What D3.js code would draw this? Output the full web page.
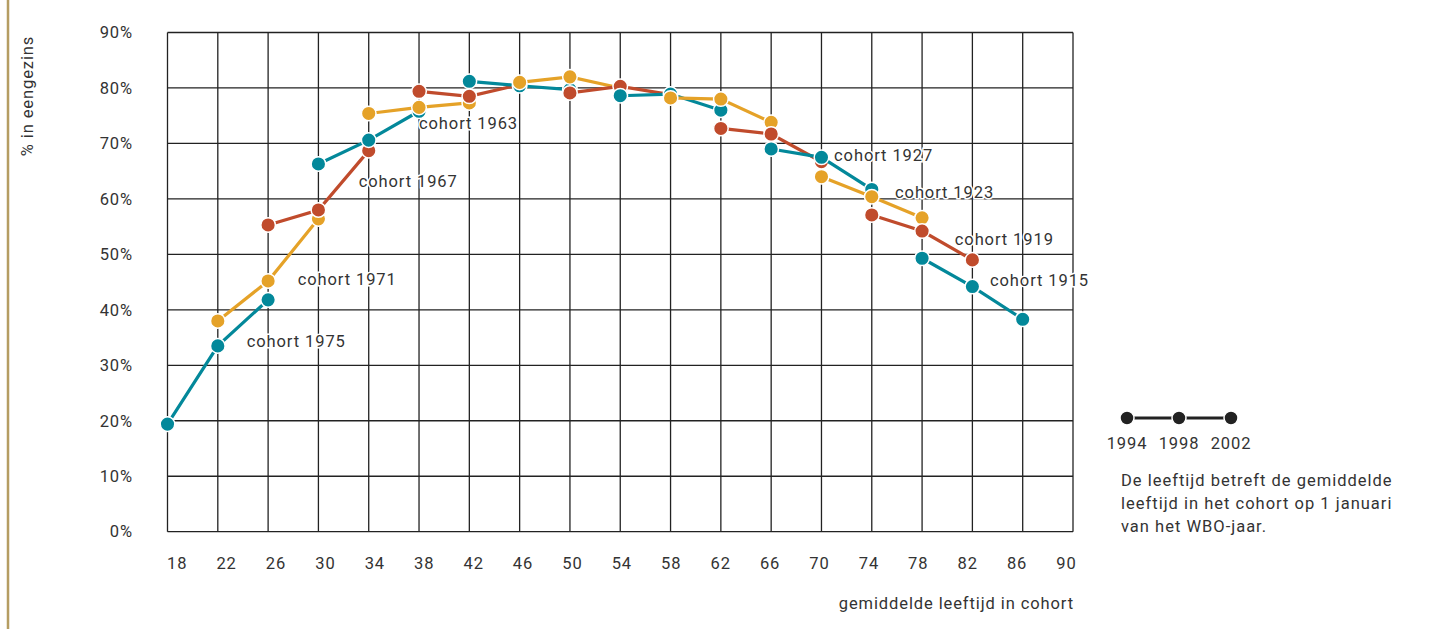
<!DOCTYPE html>
<html>
<head>
<meta charset="utf-8">
<script src="https://cdn.jsdelivr.net/npm/d3@7"></script>
<style>
  body { margin: 0; background: #fff; }
  svg text { font-family: Roboto, sans-serif; fill: #333; letter-spacing: 0.9px; }
</style>
</head>
<body>
<svg width="1438" height="629"></svg>
<script>
// cohorts, youngest first (drawn first so the older ones sit on top)
var cohorts  = [1975, 1971, 1967, 1963, 1959, 1955, 1951, 1947, 1943, 1939, 1935, 1931, 1927, 1923, 1919, 1915];
var age1994  = [18, 22, 26, 30, 34, 38, 42, 46, 50, 54, 58, 62, 66, 70, 74, 78];
var age1998  = [22, 26, 30, 34, 38, 42, 46, 50, 54, 58, 62, 66, 70, 74, 78, 82];
var age2002  = [26, 30, 34, 38, 42, 46, 50, 54, 58, 62, 66, 70, 74, 78, 82, 86];
var pct1994  = [19.4, 38.0, 55.3, 66.3, 75.4, 79.4, 81.2, 81.0, 79.1, 78.6, 78.2, 72.7, 69.0, 64.0, 57.1, 49.3];
var pct1998  = [33.5, 45.2, 58.0, 70.6, 76.5, 78.5, 80.4, 82.0, 80.3, 78.9, 78.0, 71.7, 67.5, 60.4, 54.2, 44.2];
var pct2002  = [41.8, 56.4, 68.7, 75.8, 77.3, 80.6, 79.7, 80.0, 78.8, 76.0, 73.8, 66.7, 61.7, 56.6, 49.0, 38.3];

var waveYears = [1994, 1998, 2002];
var xTicks = [18, 22, 26, 30, 34, 38, 42, 46, 50, 54, 58, 62, 66, 70, 74, 78, 82, 86, 90];
var yTicks = [0, 10, 20, 30, 40, 50, 60, 70, 80, 90];

// which cohorts get a name on the chart, and where (age, %)
var labelCohorts = [1975, 1971, 1967, 1963, 1927, 1923, 1919, 1915];
var labelAge     = [24.3, 28.35, 33.2, 38.0, 71.0, 75.85, 80.6, 83.4];
var labelPct     = [33.3, 44.5, 62.2, 72.6, 66.9, 60.2, 51.7, 44.3];

var colors = ["#03889A", "#E5A228", "#C04B2C"];

var svg = d3.select("svg");

var x = d3.scaleLinear().domain([18, 90]).range([167.5, 1073]),
    xl = d3.scaleLinear().domain([18, 90]).range([176.7, 1066]),
    y = d3.scaleLinear().domain([0, 90]).range([531.7, 32.5]);

var fs = "16.5px";

// gold rule on the left edge
svg.append("line")
    .attr("x1", 8).attr("x2", 8)
    .attr("y1", 0).attr("y2", 629)
    .attr("stroke", "#B59D62")
    .attr("stroke-width", 2.5);

// grid
var grid = svg.append("g")
    .attr("stroke", "#222")
    .attr("stroke-width", 1.3);

grid.selectAll(".v")
    .data(xTicks)
    .enter().append("line")
    .attr("x1", function(d) { return x(d) })
    .attr("x2", function(d) { return x(d) })
    .attr("y1", y(90))
    .attr("y2", y(0));

grid.selectAll(".h")
    .data(yTicks)
    .enter().append("line")
    .attr("x1", x(18))
    .attr("x2", x(90))
    .attr("y1", function(d) { return y(d) })
    .attr("y2", function(d) { return y(d) });

// axes (labels only)
var xAxis = d3.axisBottom(xl).tickValues(xTicks).tickSize(0).tickPadding(0),
    yAxis = d3.axisLeft(y).tickValues(yTicks).tickSize(0).tickPadding(34.5)
      .tickFormat(function(d) { return d + "%" });

svg.append("g")
    .attr("transform", "translate(0,557)")
    .call(xAxis)
    .call(function(g) { g.select(".domain").remove() })
    .selectAll("text")
    .style("font-size", fs)
    .style("font-family", "Roboto, sans-serif")
    .attr("fill", "#333");

svg.append("g")
    .attr("transform", "translate(" + x(18) + ",0)")
    .call(yAxis)
    .call(function(g) { g.select(".domain").remove() })
    .selectAll("text")
    .style("font-size", fs)
    .style("font-family", "Roboto, sans-serif")
    .attr("fill", "#333");

svg.append("text")
    .attr("transform", "translate(33,96)rotate(-90)")
    .attr("text-anchor", "middle")
    .style("font-size", fs)
    .text("% in eengezins");

svg.append("text")
    .attr("x", 1074)
    .attr("y", 609)
    .attr("text-anchor", "end")
    .style("font-size", fs)
    .text("gemiddelde leeftijd in cohort");

// cohort lines
var line = d3.line()
    .x(function(d) { return x(d.age) })
    .y(function(d) { return y(d.pct) });

var data = cohorts.map(function(c, i) {
  return {
    cohort: c,
    color: colors[i % 3],
    points: [
      {age: age1994[i], pct: pct1994[i]},
      {age: age1998[i], pct: pct1998[i]},
      {age: age2002[i], pct: pct2002[i]}
    ]
  };
});

var series = svg.selectAll(".cohort")
    .data(data)
    .enter().append("g")
    .attr("class", "cohort");

series.append("path")
    .attr("fill", "none")
    .attr("stroke", function(d) { return d.color })
    .attr("stroke-width", 3.2)
    .attr("d", function(d) { return line(d.points) });

series.selectAll("circle")
    .data(function(d) { return d.points.map(function(p) { return {age: p.age, pct: p.pct, color: d.color} }) })
    .enter().append("circle")
    .attr("cx", function(d) { return x(d.age) })
    .attr("cy", function(d) { return y(d.pct) })
    .attr("r", 7.3)
    .attr("fill", function(d) { return d.color })
    .attr("stroke", "#fff")
    .attr("stroke-width", 1.5);

// cohort names, with a white halo over the grid
svg.selectAll(".clabel")
    .data(labelCohorts)
    .enter().append("text")
    .attr("class", "clabel")
    .attr("x", function(d, i) { return x(labelAge[i]) })
    .attr("y", function(d, i) { return y(labelPct[i]) })
    .style("font-size", fs)
    .style("paint-order", "stroke")
    .attr("stroke", "#fff")
    .attr("stroke-width", 3)
    .text(function(d) { return "cohort " + d });

// legend: one cohort followed over the three survey years
var lx = d3.scalePoint().domain(waveYears).range([1127, 1231]);
var legend = svg.append("g");

legend.append("line")
    .attr("x1", lx(1994)).attr("x2", lx(2002))
    .attr("y1", 418).attr("y2", 418)
    .attr("stroke", "#222")
    .attr("stroke-width", 3.2);

legend.selectAll("circle")
    .data(waveYears)
    .enter().append("circle")
    .attr("cx", function(d) { return lx(d) })
    .attr("cy", 418)
    .attr("r", 7)
    .attr("fill", "#222")
    .attr("stroke", "#fff")
    .attr("stroke-width", 1.5);

legend.selectAll("text")
    .data(waveYears)
    .enter().append("text")
    .attr("x", function(d) { return lx(d) })
    .attr("y", 449)
    .attr("text-anchor", "middle")
    .style("font-size", fs)
    .text(function(d) { return d });

var note = ["De leeftijd betreft de gemiddelde", "leeftijd in het cohort op 1 januari", "van het WBO-jaar."];

svg.append("g").selectAll("text")
    .data(note)
    .enter().append("text")
    .attr("x", 1121)
    .attr("y", function(d, i) { return 486 + i * 23 })
    .style("font-size", fs)
    .style("letter-spacing", "1px")
    .text(function(d) { return d });
</script>
</body>
</html>
